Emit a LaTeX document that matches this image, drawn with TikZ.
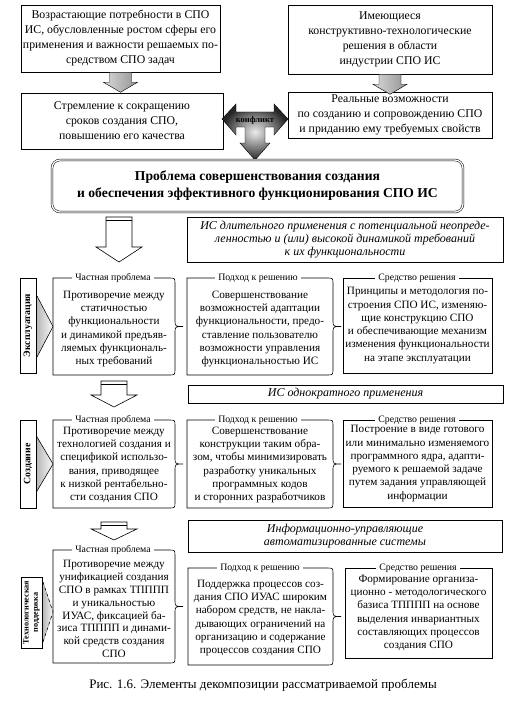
\documentclass[tikz,border=0pt]{standalone}
\usepackage{fontspec}
\setmainfont{Liberation Serif}
\tikzset{
 bl/.style={draw=black, line width=0.6pt},
 tbox/.style={draw=black, line width=0.6pt, align=center, inner sep=0pt, font=\fontsize{11.8}{15}\selectfont},
 rtxt/.style={align=center, inner sep=0pt, font=\fontsize{11.2}{13.3}\selectfont},
 hdr/.style={fill=white, inner xsep=3pt, inner ysep=1pt, font=\fontsize{9.8}{11}\selectfont},
 sbox/.style={draw=black, line width=0.6pt, align=center, inner sep=0pt, font=\fontsize{11.2}{13.3}\selectfont},
 ibox/.style={draw=black, line width=1pt, align=center, inner sep=0pt, font=\fontsize{12}{13.2}\selectfont\itshape},
 lbox/.style={draw=black, line width=0.6pt, rotate=90, align=center, inner sep=0pt, font=\fontsize{9.8}{10.5}\selectfont\bfseries},
 garrow/.style={draw=black, line width=0.4pt, left color=gray!30, right color=gray!85},
 harrow/.style={draw=black, line width=0.6pt, fill=white},
 chev/.style={left color=gray!55, right color=gray!5},
}
\newcommand\bbox[4]{%
 \draw[bl] (#1,#2) -- ({#3-6},#2) .. controls (#3,#2) .. (#3,{#2+6}) -- (#3,{(#2+#4)/2-7}) .. controls (#3,{(#2+#4)/2}) .. ({#3+8},{(#2+#4)/2}) .. controls (#3,{(#2+#4)/2}) .. (#3,{(#2+#4)/2+7}) -- (#3,{#4-6}) .. controls (#3,#4) .. ({#3-6},#4) -- (#1,#4) -- cycle;}
\newcommand\hollowarr[4]{%
 \draw[harrow] ({#1-13},#2) -- ({#1+13},#2) -- ({#1+13},#3) -- ({#1+23},#3) -- (#1,#4) -- ({#1-23},#3) -- ({#1-13},#3) -- cycle;
 \draw[line width=0.6pt] ({#1-13},{#2+3}) -- ({#1+13},{#2+3});}
\newcommand\grayarr[1]{%
 \begin{scope}[shift={(#1)}]
 \draw[garrow] (-11,0) -- (11,0) -- (11,10) -- (17,10) -- (0,20) -- (-17,10) -- (-11,10) -- cycle;
 \end{scope}}
\begin{document}
\begin{tikzpicture}[x=1pt,y=-1pt]
\fill[white] (0,0) rectangle (510,706);
\useasboundingbox (0,0) rectangle (510,706);

% top boxes
\node[tbox, minimum width=199pt, minimum height=67pt] (tl) at (120.5,38.5) {Возрастающие потребности в СПО\\ИС, обусловленные ростом сферы его\\применения и важности решаемых по-\\средством СПО задач};
\node[tbox, minimum width=204pt, minimum height=69pt] (tr) at (390,39.5) {Имеющиеся\\конструктивно-технологические\\решения в области\\индустрии СПО ИС};
\node[tbox, minimum width=202pt, minimum height=56pt] (ml) at (122,121) {Стремление к сокращению\\сроков создания СПО,\\повышению его качества};
\node[tbox, minimum width=204pt, minimum height=46pt] (mr) at (390,115) {Реальные возможности\\по созданию и сопровождению СПО\\и приданию ему требуемых свойств};
\grayarr{tl.south}
\grayarr{tr.south}

% conflict arrow
\coordinate (cf) at (255,119);
\begin{scope}[shift={(cf)}]
\draw[line width=0.4pt, inner color=gray!15, outer color=black!85] (-33,0) -- (-19,-15) -- (-19,-7) -- (19,-7) -- (19,-15) -- (33,0) -- (19,16) -- (19,8) -- (10,8) -- (10,24) -- (15,24) -- (0,41) -- (-15,24) -- (-10,24) -- (-10,8) -- (-19,8) -- (-19,16) -- cycle;
\end{scope}
\node[inner sep=0pt, font=\fontsize{8.5}{9}\selectfont\bfseries] (conf) at (255,120) {конфликт};

% main problem
\node[draw, line width=0.5pt, double, double distance=1.3pt, rounded corners=8pt, minimum width=411pt, minimum height=52pt, align=center, font=\fontsize{13.6}{17}\selectfont\bfseries] (prob) at (257.5,186) {Проблема совершенствования создания\\и обеспечения эффективного функционирования СПО ИС};

\hollowarr{119}{217}{247}{262}
\node[ibox, minimum width=316pt, minimum height=45pt] (i1) at (345,239.5) {ИС длительного применения с потенциальной неопреде-\\ленностью и (или) высокой динамикой требований\\к их функциональности};

% row 1
\bbox{53}{278}{175}{375}
\bbox{187}{278}{333}{375}
\node[sbox, minimum width=149pt, minimum height=95pt] (s1) at (417.5,325.5) {Принципы и методология по-\\строения СПО ИС, изменяю-\\щие конструкцию СПО\\и обеспечивающие механизм\\изменения функциональности\\на этапе эксплуатации};
\node[rtxt] (p1) at (114,329) {Противоречие между\\статичностью\\функциональности\\и динамикой предъяв-\\ляемых функциональ-\\ных требований};
\node[rtxt] (a1) at (260,329) {Совершенствование\\возможностей адаптации\\функциональности, предо-\\ставление пользователю\\возможности управления\\функциональностью ИС};
\node[hdr] (hp1) at (113,278) {Частная проблема};
\node[hdr] (ha1) at (258,278) {Подход к решению};
\node[hdr] (hs1) at (417,278) {Средство решения};
\node[lbox, minimum width=95pt, minimum height=16pt] (l1) at (28,325.5) {Эксплуатация};
\fill[chev] (37,296) -- (53,326.5) -- (37,357) -- cycle;
\draw[line width=0.5pt] (37,296) -- (53,326.5) -- (37,357);

\hollowarr{114}{381}{395}{407}
\node[ibox, minimum width=315pt, minimum height=18pt] (i2) at (345.5,394) {ИС однократного применения};

% row 2
\bbox{53}{420}{175}{508}
\bbox{187}{420}{333}{508}
\node[sbox, minimum width=149pt, minimum height=87pt] (s2) at (417.5,463.5) {Построение в виде готового\\или минимально изменяемого\\программного ядра, адапти-\\руемого к решаемой задаче\\путем задания управляющей\\информации};
\node[rtxt] (p2) at (114,465) {Противоречие между\\технологией создания и\\спецификой использо-\\вания, приводящее\\к низкой рентабельно-\\сти создания СПО};
\node[rtxt] (a2) at (260,465) {Совершенствование\\конструкции таким обра-\\зом, чтобы минимизировать\\разработку уникальных\\программных кодов\\и сторонних разработчиков};
\node[hdr] (hp2) at (113,420) {Частная проблема};
\node[hdr] (ha2) at (258,420) {Подход к решению};
\node[hdr] (hs2) at (417,420) {Средство решения};
\node[lbox, minimum width=88pt, minimum height=16pt] (l2) at (28,464) {Создание};
\fill[chev] (37,437) -- (53,464) -- (37,491) -- cycle;
\draw[line width=0.5pt] (37,437) -- (53,464) -- (37,491);

\hollowarr{114}{522}{529}{540}
\node[ibox, minimum width=314pt, minimum height=32pt] (i3) at (345,536) {Информационно-управляющие\\автоматизированные системы};

% row 3
\bbox{53}{550}{175}{663}
\bbox{188}{568}{333}{665}
\node[sbox, minimum width=147pt, minimum height=90pt] (s3) at (418.5,613) {Формирование организа-\\ционно - методологического\\базиса ТПППП на основе\\выделения инвариантных\\составляющих процессов\\создания СПО};
\node[rtxt, font=\fontsize{11.2}{12.9}\selectfont] (p3) at (114,609) {Противоречие между\\унификацией создания\\СПО в рамках ТПППП\\и уникальностью\\ИУАС, фиксацией ба-\\зиса ТПППП и динами-\\кой средств создания\\СПО};
\node[rtxt] (a3) at (260.5,618) {Поддержка процессов соз-\\дания СПО ИУАС широким\\набором средств, не накла-\\дывающих ограничений на\\организацию и содержание\\процессов создания СПО};
\node[hdr] (hp3) at (113,550) {Частная проблема};
\node[hdr] (ha3) at (260,568) {Подход к решению};
\node[hdr] (hs3) at (418,568) {Средство решения};
\node[lbox, minimum width=71pt, minimum height=21pt, font=\fontsize{8.2}{9.2}\selectfont\bfseries] (l3) at (31.5,612.5) {Технологическая\\поддержка};
\fill[chev] (43,582) -- (53,612) -- (43,642) -- cycle;
\draw[line width=0.5pt, dashed] (43,582) -- (53,612) -- (43,642);

\node[inner sep=0pt, font=\fontsize{13}{15}\selectfont] (cap) at (263,685) {Рис. 1.6. Элементы декомпозиции рассматриваемой проблемы};
\end{tikzpicture}
\end{document}
